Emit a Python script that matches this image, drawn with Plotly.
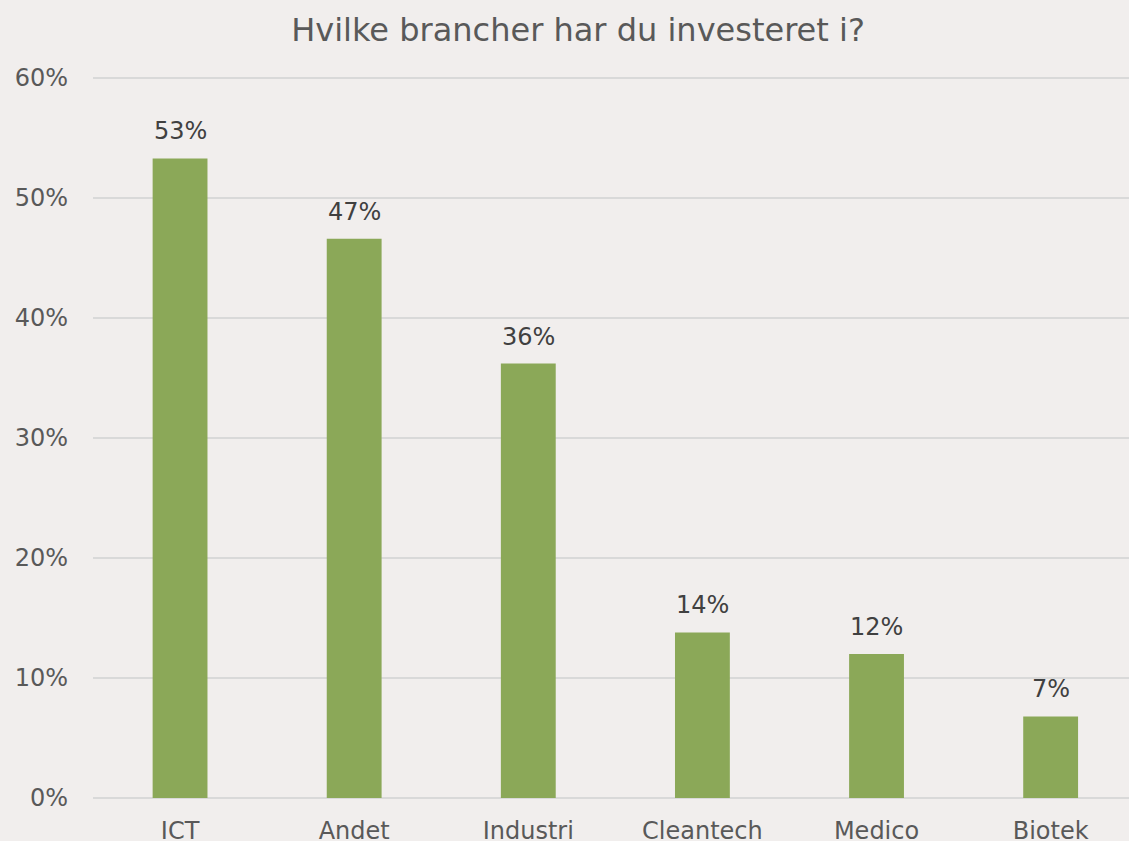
import plotly.graph_objects as go

categories = ["ICT", "Andet", "Industri", "Cleantech", "Medico", "Biotek"]
values = [53.3, 46.6, 36.2, 13.8, 12.0, 6.8]
tick_vals = [0, 10, 20, 30, 40, 50, 60]
tick_text = ["0%", "10%", "20%", "30%", "40%", "50%", "60%"]
title_text = "Hvilke brancher har du investeret i?"

FONT = "DejaVu Sans, Verdana, sans-serif"
BG = "#F1EEED"

fig = go.Figure()
fig.add_trace(go.Bar(
    x=categories, y=values,
    marker=dict(color="#8BA858", line=dict(width=0)),
    width=0.315,
    hoverinfo="skip",
))

for c, v in zip(categories, values):
    fig.add_annotation(
        x=c, y=v, text=f"{round(v)}%", showarrow=False,
        yanchor="bottom", yshift=11,
        font=dict(family=FONT, size=24, color="#404040"),
    )

fig.update_layout(
    width=1129, height=841,
    paper_bgcolor=BG, plot_bgcolor=BG,
    margin=dict(l=93, r=0, t=75, b=43),
    showlegend=False,
    title=dict(text=title_text, x=0.512, xref="container", xanchor="center",
               y=0.965, yref="container", yanchor="middle",
               font=dict(family=FONT, size=32, color="#595959")),
    xaxis=dict(range=[-0.5, 5.45], showgrid=False, zeroline=False, showline=False,
               ticks="", ticklabelstandoff=16, automargin=False,
               tickfont=dict(family=FONT, size=24, color="#595959")),
    yaxis=dict(range=[0, 60.25], tickvals=tick_vals, ticktext=tick_text,
               showgrid=True, gridcolor="#D9D9D9", gridwidth=2,
               zeroline=True, zerolinecolor="#D9D9D9", zerolinewidth=2,
               showline=False, ticks="", ticklabelstandoff=24, automargin=False,
               tickfont=dict(family=FONT, size=24, color="#595959")),
)

fig.write_html(
    "out.html",
    config={"displayModeBar": False},
    post_script="document.body.style.margin='0';document.body.style.overflow='hidden';",
)
